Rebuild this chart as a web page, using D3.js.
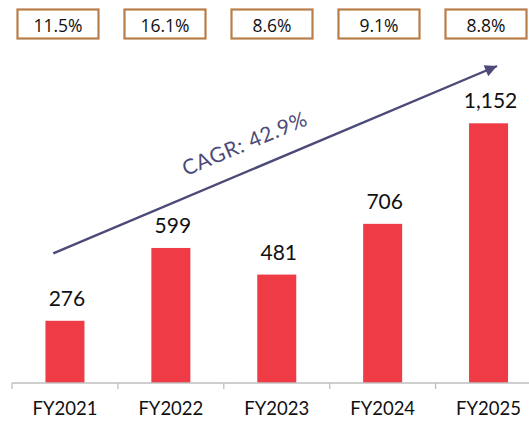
<!DOCTYPE html>
<html>
<head>
<meta charset="utf-8">
<script src="https://cdn.jsdelivr.net/npm/d3@7"></script>
<style>
  html, body { margin: 0; padding: 0; background: #fff; }
  svg { display: block; }
</style>
</head>
<body>
<svg id="chart" width="529" height="421"></svg>
<script>
const categories = ["FY2021", "FY2022", "FY2023", "FY2024", "FY2025"];
const values = [276, 599, 481, 706, 1152];
const valueLabels = ["276", "599", "481", "706", "1,152"];
const growthLabels = ["11.5%", "16.1%", "8.6%", "9.1%", "8.8%"];
const cagrLabel = "CAGR: 42.9%";

const svg = d3.select("#chart");
const W = 529, H = 421;
const axisY = 383;

const x = d3.scaleBand().domain(categories).range([12, 541.5]).paddingInner(0).paddingOuter(0);
const y = d3.scaleLinear().domain([0, 1152]).range([axisY, 123.3]);

const barW = 39;
const numFont = "Lato, 'Open Sans', sans-serif";

// bars
svg.append("g").selectAll("rect").data(values).join("rect")
  .attr("x", (d, i) => x(categories[i]) + x.bandwidth() / 2 - barW / 2)
  .attr("y", d => y(d))
  .attr("width", barW)
  .attr("height", d => y(0) - y(d))
  .attr("fill", "#EF3B45");

// value labels
svg.append("g").selectAll("text").data(values).join("text")
  .attr("x", (d, i) => x(categories[i]) + x.bandwidth() / 2 + 2)
  .attr("y", d => y(d) - 15)
  .attr("text-anchor", "middle")
  .attr("font-family", numFont)
  .attr("font-size", 21)
  .attr("fill", "#111")
  .text((d, i) => valueLabels[i]);

// x axis
const axis = d3.axisBottom(x).tickSize(6).tickSizeOuter(0).tickFormat(() => "");
const ax = svg.append("g").attr("transform", `translate(0,${axisY})`).call(axis);
ax.select(".domain").attr("stroke", "#BFBFBF").attr("stroke-width", 1.3)
  .attr("d", `M12,0H${W}`);
ax.selectAll(".tick").remove();
ax.selectAll(".tk").data(categories).join("line")
  .attr("class", "tk")
  .attr("x1", d => x(d)).attr("x2", d => x(d))
  .attr("y1", 0).attr("y2", 6)
  .attr("stroke", "#BFBFBF").attr("stroke-width", 1.3);

svg.append("g").selectAll("text").data(categories).join("text")
  .attr("x", d => x(d) + x.bandwidth() / 2)
  .attr("y", 415)
  .attr("text-anchor", "middle")
  .attr("font-family", numFont)
  .attr("font-size", 18.5)
  .attr("fill", "#111")
  .text(d => d);

// growth boxes
const bx = d3.scalePoint().domain(categories).range([58, 486]);
const boxW = 81, boxH = 29;
const boxes = svg.append("g").selectAll("g").data(growthLabels).join("g")
  .attr("transform", (d, i) => `translate(${bx(categories[i])},24)`);
boxes.append("rect")
  .attr("x", -boxW / 2).attr("y", -boxH / 2)
  .attr("width", boxW).attr("height", boxH)
  .attr("fill", "#fff")
  .attr("stroke", "#B87D48").attr("stroke-width", 2.2);
boxes.append("text")
  .attr("y", 8)
  .attr("text-anchor", "middle")
  .attr("font-family", "'Open Sans', sans-serif")
  .attr("font-size", 17.5)
  .attr("fill", "#111")
  .text(d => d);

// CAGR arrow
const arrowColor = "#4B4A78";
const defs = svg.append("defs");
defs.append("marker")
  .attr("id", "arrowhead")
  .attr("viewBox", "0 0 10 10")
  .attr("refX", 10).attr("refY", 5)
  .attr("markerWidth", 6).attr("markerHeight", 5)
  .attr("markerUnits", "strokeWidth")
  .attr("orient", "auto")
  .append("path").attr("d", "M0,0L10,5L0,10Z").attr("fill", arrowColor);

const start = { x: x(categories[0]) + 41.3, y: 253.3 };
const end = { x: 497, y: 66 };
svg.append("line")
  .attr("x1", start.x).attr("y1", start.y)
  .attr("x2", end.x).attr("y2", end.y)
  .attr("stroke", arrowColor).attr("stroke-width", 2.4)
  .attr("marker-end", "url(#arrowhead)");

const angle = Math.atan2(end.y - start.y, end.x - start.x) * 180 / Math.PI;
svg.append("text")
  .attr("transform", `translate(244.5,144) rotate(${angle})`)
  .attr("y", 7)
  .attr("text-anchor", "middle")
  .attr("font-family", numFont)
  .attr("font-size", 21)
  .attr("textLength", 133)
  .attr("lengthAdjust", "spacing")
  .attr("fill", arrowColor)
  .text(cagrLabel);
</script>
</body>
</html>
